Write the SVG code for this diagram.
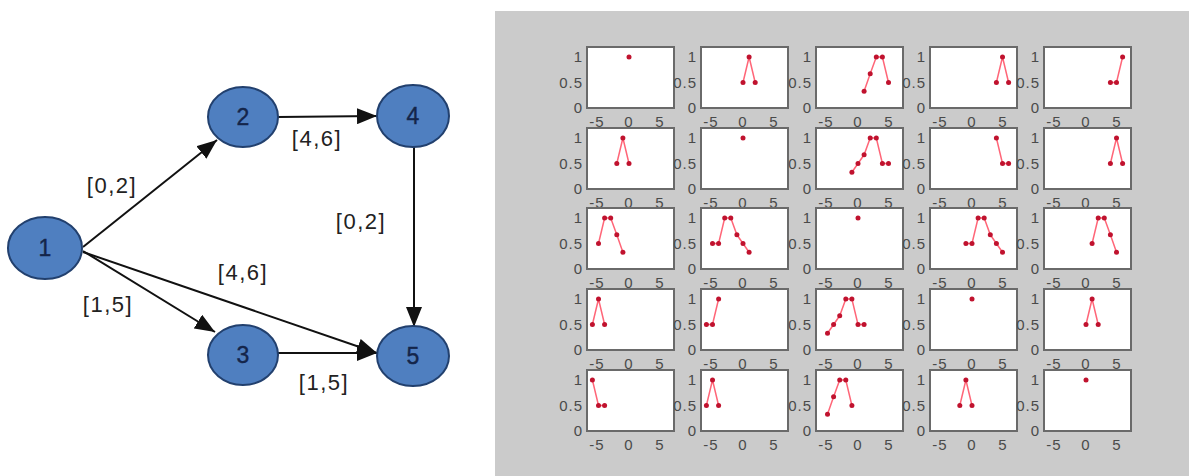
<svg xmlns="http://www.w3.org/2000/svg" xmlns:xlink="http://www.w3.org/1999/xlink" width="1189" height="476" viewBox="0 0 1189 476">
<style>
.node ellipse{fill:#4f7fc0;stroke:#22406e;stroke-width:2}
.node text{font-family:"Liberation Sans",Arial,sans-serif;font-size:23px;fill:#14254a;text-anchor:middle;stroke:#14254a;stroke-width:0.4}
.edge{stroke:#111;stroke-width:2;fill:none;marker-end:url(#arrow)}
.elabel{font-family:"Liberation Sans",Arial,sans-serif;font-size:22px;fill:#222;text-anchor:middle;letter-spacing:1.5px}
.frame{fill:#fff;stroke:#6a6a6a;stroke-width:2}
.tick{font-family:"Liberation Sans",Arial,sans-serif;font-size:15px;fill:#4a4a4a;letter-spacing:1px}
.ty{text-anchor:end}
.tx{text-anchor:middle}
.data{fill:none;stroke:#ff6678;stroke-width:1.5;marker-start:url(#dot);marker-mid:url(#dot);marker-end:url(#dot)}
.pt{fill:#c0122e}
</style>
<defs>
<marker id="arrow" viewBox="0 0 20 16" refX="20" refY="8" markerWidth="20" markerHeight="16" markerUnits="userSpaceOnUse" orient="auto"><path d="M0,0 L20,8 L0,16 z" fill="#111"/></marker>
<marker id="dot" viewBox="-3 -3 6 6" markerWidth="6" markerHeight="6" markerUnits="userSpaceOnUse"><circle r="2.5" fill="#c0122e"/></marker>
<g id="axes">
<text class="tick ty" x="-4" y="15">1</text>
<text class="tick ty" x="-4" y="40.5">0.5</text>
<text class="tick ty" x="-4" y="66">0</text>
<text class="tick tx" x="10" y="80">-5</text>
<text class="tick tx" x="42" y="80">0</text>
<text class="tick tx" x="73" y="80">5</text>
<rect class="frame" x="0" y="0" width="87" height="61"/>
</g>
</defs>
<rect x="0" y="0" width="1189" height="476" fill="#fff"/>

<g id="connectors">
<path class="edge" d="M83,247 L217,140"/>
<path class="edge" d="M278,117 L377,116"/>
<path class="edge" d="M414,147 L414,327"/>
<path class="edge" d="M83,251 L215,332"/>
<path class="edge" d="M83,252 L377,353"/>
<path class="edge" d="M278,353 L377,353"/>
<text class="elabel" x="112" y="193">[0,2]</text>
<text class="elabel" x="317" y="146">[4,6]</text>
<text class="elabel" x="361" y="229">[0,2]</text>
<text class="elabel" x="243" y="280">[4,6]</text>
<text class="elabel" x="108" y="312">[1,5]</text>
<text class="elabel" x="324" y="390">[1,5]</text>
</g>
<g id="node1" class="node"><ellipse cx="45" cy="248" rx="37" ry="31"/><text x="45" y="256">1</text></g>
<g id="node2" class="node"><ellipse cx="243" cy="117" rx="35" ry="30"/><text x="243" y="125">2</text></g>
<g id="node3" class="node"><ellipse cx="243" cy="355" rx="35" ry="30"/><text x="243" y="363">3</text></g>
<g id="node4" class="node"><ellipse cx="413" cy="116" rx="36" ry="31"/><text x="413" y="124">4</text></g>
<g id="node5" class="node"><ellipse cx="413" cy="356" rx="36" ry="30"/><text x="413" y="364">5</text></g>

<g id="plots">
<rect x="495" y="11" width="694" height="465" fill="#cbcbcb"/>
<g id="p11" transform="translate(587,47)"><use xlink:href="#axes"/><circle class="pt" cx="42" cy="10" r="2.5"/></g>
<g id="p12" transform="translate(701,47)"><use xlink:href="#axes"/><polyline class="data" points="42,35.5 48.1,10 54.2,35.5"/></g>
<g id="p13" transform="translate(816,47)"><use xlink:href="#axes"/><polyline class="data" points="48.1,44.2 54.2,26.8 60.3,10 66.4,10 72.5,35.5"/></g>
<g id="p14" transform="translate(930,47)"><use xlink:href="#axes"/><polyline class="data" points="66.4,35.5 72.5,10 78.6,35.5"/></g>
<g id="p15" transform="translate(1044,47)"><use xlink:href="#axes"/><polyline class="data" points="66.4,35.5 72.5,35.5 78.6,10"/></g>

<g id="p21" transform="translate(587,128)"><use xlink:href="#axes"/><polyline class="data" points="29.8,35.5 35.9,10 42,35.5"/></g>
<g id="p22" transform="translate(701,128)"><use xlink:href="#axes"/><circle class="pt" cx="42" cy="10" r="2.5"/></g>
<g id="p23" transform="translate(816,128)"><use xlink:href="#axes"/><polyline class="data" points="35.9,44.2 42,35.5 48.1,26.8 54.2,10 60.3,10 66.4,35.5 72.5,35.5"/></g>
<g id="p24" transform="translate(930,128)"><use xlink:href="#axes"/><polyline class="data" points="66.4,10 72.5,35.5 78.6,35.5"/></g>
<g id="p25" transform="translate(1044,128)"><use xlink:href="#axes"/><polyline class="data" points="66.4,35.5 72.5,10 78.6,35.5"/></g>

<g id="p31" transform="translate(587,208)"><use xlink:href="#axes"/><polyline class="data" points="11.5,35.5 17.6,10 23.7,10 29.8,26.8 35.9,44.2"/></g>
<g id="p32" transform="translate(701,208)"><use xlink:href="#axes"/><polyline class="data" points="11.5,35.5 17.6,35.5 23.7,10 29.8,10 35.9,26.8 42,35.5 48.1,44.2"/></g>
<g id="p33" transform="translate(816,208)"><use xlink:href="#axes"/><circle class="pt" cx="42" cy="10" r="2.5"/></g>
<g id="p34" transform="translate(930,208)"><use xlink:href="#axes"/><polyline class="data" points="35.9,35.5 42,35.5 48.1,10 54.2,10 60.3,26.8 66.4,35.5 72.5,44.2"/></g>
<g id="p35" transform="translate(1044,208)"><use xlink:href="#axes"/><polyline class="data" points="48.1,35.5 54.2,10 60.3,10 66.4,26.8 72.5,44.2"/></g>

<g id="p41" transform="translate(587,289)"><use xlink:href="#axes"/><polyline class="data" points="5.4,35.5 11.5,10 17.6,35.5"/></g>
<g id="p42" transform="translate(701,289)"><use xlink:href="#axes"/><polyline class="data" points="5.4,35.5 11.5,35.5 17.6,10"/></g>
<g id="p43" transform="translate(816,289)"><use xlink:href="#axes"/><polyline class="data" points="11.5,44.2 17.6,35.5 23.7,26.8 29.8,10 35.9,10 42,35.5 48.1,35.5"/></g>
<g id="p44" transform="translate(930,289)"><use xlink:href="#axes"/><circle class="pt" cx="42" cy="10" r="2.5"/></g>
<g id="p45" transform="translate(1044,289)"><use xlink:href="#axes"/><polyline class="data" points="42,35.5 48.1,10 54.2,35.5"/></g>

<g id="p51" transform="translate(587,370)"><use xlink:href="#axes"/><polyline class="data" points="5.4,10 11.5,35.5 17.6,35.5"/></g>
<g id="p52" transform="translate(701,370)"><use xlink:href="#axes"/><polyline class="data" points="5.4,35.5 11.5,10 17.6,35.5"/></g>
<g id="p53" transform="translate(816,370)"><use xlink:href="#axes"/><polyline class="data" points="11.5,44.2 17.6,26.8 23.7,10 29.8,10 35.9,35.5"/></g>
<g id="p54" transform="translate(930,370)"><use xlink:href="#axes"/><polyline class="data" points="29.8,35.5 35.9,10 42,35.5"/></g>
<g id="p55" transform="translate(1044,370)"><use xlink:href="#axes"/><circle class="pt" cx="42" cy="10" r="2.5"/></g>
</g>
</svg>
